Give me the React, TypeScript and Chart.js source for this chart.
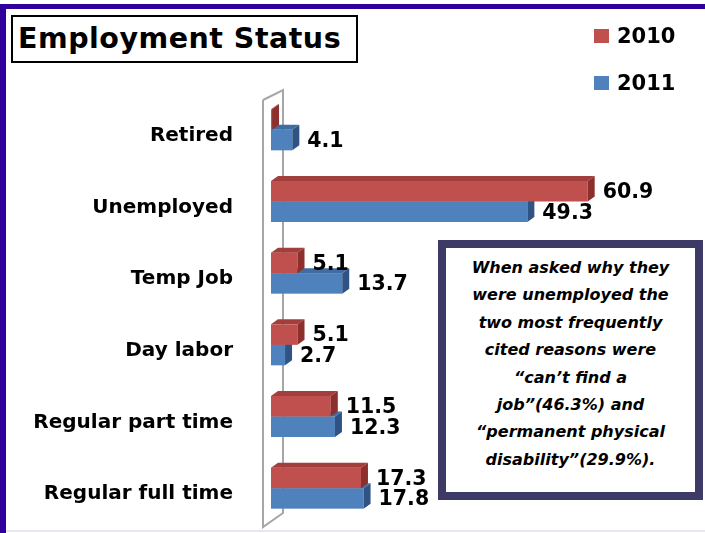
import React, { useEffect, useRef } from "react";
import { Chart, registerables } from "chart.js";

Chart.register(...registerables);

const categories = ["Retired", "Unemployed", "Temp Job", "Day labor", "Regular part time", "Regular full time"];
const series2010 = [0.2, 60.9, 5.1, 5.1, 11.5, 17.3];
const series2011 = [4.1, 49.3, 13.7, 2.7, 12.3, 17.8];
const seriesNames = ["2010", "2011"];
const noteLines = [
  "When asked why they",
  "were unemployed the",
  "two most frequently",
  "cited reasons were",
  "\u201Ccan\u2019t find a",
  "job\u201D(46.3%) and",
  "\u201Cpermanent physical",
  "disability\u201D(29.9%).",
];

const FRONT = ["#C0504D", "#4F81BD"];
const TOP = ["#A23F3C", "#3F6DA3"];
const SIDE = ["#8C2F2D", "#2F5483"];
const DX = 7;
const DY = 5;

const bar3d = {
  id: "bar3d",
  beforeDatasetsDraw(chart: any) {
    const { ctx, chartArea } = chart;
    const l = chartArea.left;
    const t = chartArea.top;
    const b = chartArea.bottom;
    ctx.save();
    ctx.strokeStyle = "#A6A6A6";
    ctx.lineWidth = 2;
    ctx.beginPath();
    ctx.moveTo(l - 8, t + 6);
    ctx.lineTo(l - 8, b + 3);
    ctx.lineTo(l + 12, b - 11);
    ctx.lineTo(l + 12, t - 4);
    ctx.lineTo(l - 8, t + 6);
    ctx.stroke();
    ctx.restore();
  },
  afterDatasetsDraw(chart: any) {
    const { ctx } = chart;
    const n = chart.data.labels.length;
    ctx.save();
    for (let i = 0; i < n; i++) {
      for (const d of [1, 0]) {
        const el: any = chart.getDatasetMeta(d).data[i];
        const x0 = el.base;
        const x1 = el.x;
        const top = el.y - el.height / 2;
        const bot = el.y + el.height / 2;
        ctx.fillStyle = FRONT[d];
        ctx.fillRect(x0, top, x1 - x0, bot - top);
        ctx.fillStyle = TOP[d];
        ctx.beginPath();
        ctx.moveTo(x0, top);
        ctx.lineTo(x1, top);
        ctx.lineTo(x1 + DX, top - DY);
        ctx.lineTo(x0 + DX, top - DY);
        ctx.closePath();
        ctx.fill();
        ctx.fillStyle = SIDE[d];
        ctx.beginPath();
        ctx.moveTo(x1, top);
        ctx.lineTo(x1 + DX, top - DY);
        ctx.lineTo(x1 + DX, bot - DY);
        ctx.lineTo(x1, bot);
        ctx.closePath();
        ctx.fill();
      }
    }
    ctx.fillStyle = "#000";
    ctx.font = "bold 20.5px 'DejaVu Sans'";
    ctx.textAlign = "left";
    ctx.textBaseline = "middle";
    for (let d = 0; d < 2; d++) {
      const vals = chart.data.datasets[d].data;
      chart.getDatasetMeta(d).data.forEach((el: any, i: number) => {
        if (vals[i] < 1) return;
        ctx.fillText(vals[i].toFixed(1), el.x + 15, el.y + 1.5);
      });
    }
    ctx.restore();
  },
};

export default function App() {
  const ref = useRef<HTMLCanvasElement>(null);
  useEffect(() => {
    document.body.style.margin = "0";
    const chart = new Chart(ref.current!, {
      type: "bar",
      data: {
        labels: categories,
        datasets: [
          { label: seriesNames[0], data: series2010, backgroundColor: "rgba(0,0,0,0)", categoryPercentage: 0.572, barPercentage: 1 },
          { label: seriesNames[1], data: series2011, backgroundColor: "rgba(0,0,0,0)", categoryPercentage: 0.572, barPercentage: 1 },
        ],
      },
      options: {
        indexAxis: "y",
        animation: false,
        responsive: false,
        events: [],
        layout: { padding: { left: 0, top: 94, right: 70, bottom: 9 } },
        plugins: { legend: { display: false }, tooltip: { enabled: false }, title: { display: false } },
        scales: {
          x: { display: false, min: 0, max: 70 },
          y: {
            grid: { display: false, drawTicks: false },
            border: { display: false },
            afterFit: (s: any) => {
              s.width = 271;
              s.paddingTop = 0;
              s.paddingBottom = 0;
            },
            ticks: { padding: 38, labelOffset: 6, color: "#000", font: { family: "DejaVu Sans", weight: "bold", size: 20 } },
          },
        },
      },
      plugins: [bar3d],
    });
    return () => chart.destroy();
  }, []);

  return (
    <div style={{ position: "relative", width: 705, height: 533, background: "#fff", overflow: "hidden" }}>
      <canvas ref={ref} width={705} height={533} style={{ position: "absolute", left: 0, top: 0 }} />
      <div style={{ position: "absolute", left: 0, top: 4, width: 705, height: 5, background: "#30009A" }} />
      <div style={{ position: "absolute", left: 0, top: 4, width: 6, height: 529, background: "#30009A" }} />
      <div style={{ position: "absolute", left: 6, top: 530, width: 699, height: 2, background: "#E8E6F2" }} />
      <div style={{ position: "absolute", left: 11, top: 15, width: 347, height: 48, boxSizing: "border-box", border: "2px solid #000", background: "#fff", paddingLeft: 5, paddingTop: 6, fontFamily: "DejaVu Sans", fontWeight: "bold", fontSize: 28.5, letterSpacing: "0.5px", lineHeight: "32px", whiteSpace: "nowrap", color: "#000" }}>
        Employment Status
      </div>
      {seriesNames.map((s, i) => (
        <div key={s} style={{ position: "absolute", left: 594, top: 22 + i * 47, height: 28, display: "flex", alignItems: "center" }}>
          <div style={{ width: 15, height: 14, background: FRONT[i], marginRight: 8 }} />
          <span style={{ fontFamily: "DejaVu Sans", fontWeight: "bold", fontSize: 21, color: "#000" }}>{s}</span>
        </div>
      ))}
      <div style={{ position: "absolute", left: 438, top: 240, width: 265, height: 260, boxSizing: "border-box", border: "8px solid #3E3A66", background: "#fff", paddingTop: 6, textAlign: "center", fontFamily: "DejaVu Sans", fontStyle: "italic", fontWeight: "bold", fontSize: 16, lineHeight: "27.4px", whiteSpace: "nowrap", color: "#000" }}>
        {noteLines.map((l) => (
          <div key={l}>{l}</div>
        ))}
      </div>
    </div>
  );
}
